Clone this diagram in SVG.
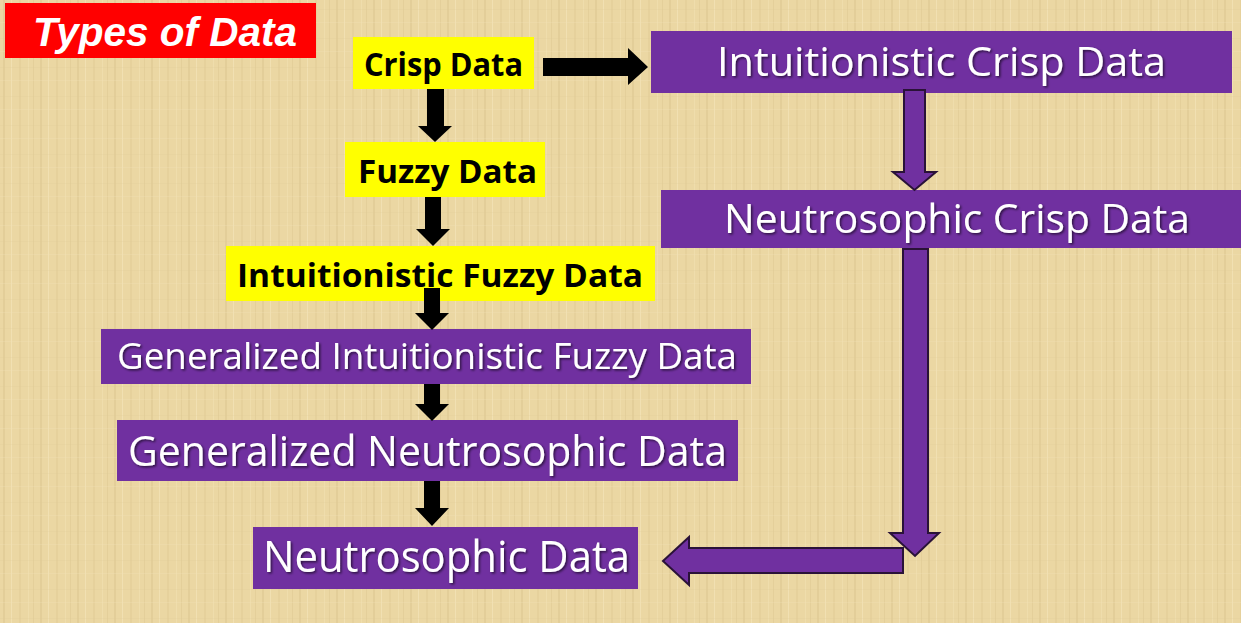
<svg xmlns="http://www.w3.org/2000/svg" width="1241" height="623" viewBox="0 0 1241 623">
<defs>
<style>
.yb{fill:#FFFF00}
.pb{fill:#7030A0}
.yt{font-family:"Open Sans","DejaVu Sans",sans-serif;font-weight:bold;fill:#000;text-anchor:middle}
.wt{font-family:"Open Sans","DejaVu Sans",sans-serif;fill:#fff;text-anchor:middle;filter:url(#sh)}
.ba{fill:#000}
.pa{fill:#7030A0;stroke:#2a1238;stroke-width:2;stroke-linejoin:miter}
</style>
<filter id="sh" x="-5%" y="-20%" width="110%" height="140%">
<feDropShadow dx="1.5" dy="1.5" stdDeviation="1" flood-color="#000" flood-opacity="0.6"/>
</filter>
<pattern id="tex" width="37" height="29" patternUnits="userSpaceOnUse">
<rect width="37" height="29" fill="#EBD7A3"/>
<rect x="3" width="2" height="29" fill="#D9C48E" opacity="0.45"/>
<rect x="11" width="1" height="29" fill="#F5E6BC" opacity="0.6"/>
<rect x="19" width="2" height="29" fill="#DCC690" opacity="0.35"/>
<rect x="28" width="1" height="29" fill="#F3E3B6" opacity="0.5"/>
<rect x="33" width="1" height="29" fill="#D6C08A" opacity="0.35"/>
<rect y="9" width="37" height="1" fill="#DDC894" opacity="0.2"/>
<rect y="22" width="37" height="1" fill="#F4E4B8" opacity="0.3"/>
</pattern>
</defs>
<rect width="1241" height="623" fill="url(#tex)"/>

<g id="title">
<rect x="5" y="3" width="311" height="55" fill="#FF0000"/>
<text x="165" y="46" font-family="Liberation Sans, Arial, sans-serif" font-weight="bold" font-style="italic" font-size="41" fill="#fff" text-anchor="middle" textLength="264" lengthAdjust="spacingAndGlyphs">Types of Data</text>
</g>

<g id="crisp">
<rect class="yb" x="353" y="37" width="181" height="52"/>
<text class="yt" x="443.5" y="76" font-size="33" textLength="159" lengthAdjust="spacingAndGlyphs">Crisp Data</text>
</g>

<g id="fuzzy">
<rect class="yb" x="345" y="142" width="200" height="55"/>
<text class="yt" x="447.5" y="183" font-size="33" textLength="179" lengthAdjust="spacingAndGlyphs">Fuzzy Data</text>
</g>

<g id="ifd">
<rect class="yb" x="226" y="246" width="429" height="55"/>
<text class="yt" x="440" y="287" font-size="33" textLength="406" lengthAdjust="spacingAndGlyphs">Intuitionistic Fuzzy Data</text>
</g>

<g id="icd">
<rect class="pb" x="651" y="31" width="581" height="62"/>
<text class="wt" x="941.5" y="76" font-size="41" textLength="449" lengthAdjust="spacingAndGlyphs">Intuitionistic Crisp Data</text>
</g>

<g id="ncd">
<rect class="pb" x="661" y="190" width="580" height="58"/>
<text class="wt" x="957" y="233" font-size="41" textLength="466" lengthAdjust="spacingAndGlyphs">Neutrosophic Crisp Data</text>
</g>

<g id="gifd">
<rect class="pb" x="101" y="329" width="650" height="55"/>
<text class="wt" x="427" y="369" font-size="36" textLength="620" lengthAdjust="spacingAndGlyphs">Generalized Intuitionistic Fuzzy Data</text>
</g>

<g id="gnd">
<rect class="pb" x="117" y="420" width="621" height="61"/>
<text class="wt" x="427.5" y="466" font-size="42" textLength="599" lengthAdjust="spacingAndGlyphs">Generalized Neutrosophic Data</text>
</g>

<g id="nd">
<rect class="pb" x="253" y="527" width="385" height="62"/>
<text class="wt" x="446.5" y="572" font-size="43" textLength="367" lengthAdjust="spacingAndGlyphs">Neutrosophic Data</text>
</g>

<g id="connectors">
<polygon class="ba" points="543,58 628,58 628,48 648,67 628,85 628,76 543,76"/>
<polygon class="ba" points="427,89 444,89 444,126 452,126 435,142 418,126 427,126"/>
<polygon class="ba" points="425,197 441,197 441,229 450,229 433,246 416,229 425,229"/>
<polygon class="ba" points="424,288 440,288 440,313 449,313 432,330 415,313 424,313"/>
<polygon class="ba" points="424,384 440,384 440,404 449,404 432,421 415,404 424,404"/>
<polygon class="ba" points="424,481 440,481 440,508 449,508 432,526 415,508 424,508"/>
<polygon class="pa" points="904,90 925,90 925,172 936,172 914.5,190 893,172 904,172"/>
<polygon class="pa" points="903,548 903,573 689,573 689,585 663,561 689,537 689,548"/>
<polygon class="pa" points="903,249 928,249 928,533 939,533 915,556 890,533 903,533"/>
</g>
</svg>
